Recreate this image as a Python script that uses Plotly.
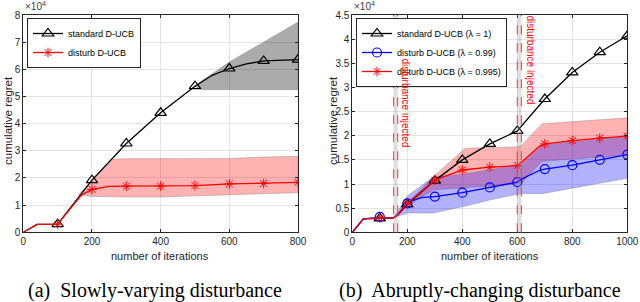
import plotly.graph_objects as go

# ---------------- data: (a) slowly-varying disturbance ----------------
iters_a = [100, 200, 300, 400, 500, 600, 700, 800]
std_a = [0.30, 1.92, 3.27, 4.40, 5.38, 6.03, 6.31, 6.36]
dist_a = [0.30, 1.58, 1.70, 1.70, 1.72, 1.78, 1.80, 1.84]

std_a_path_x = [0, 40, 100, 200, 300, 400, 500, 550, 600, 650, 700, 800]
std_a_path_y = [0, 0.29, 0.30, 1.92, 3.27, 4.40, 5.38, 5.78, 6.03, 6.20, 6.31, 6.36]
dist_a_path_x = [0, 40, 100, 170, 200, 250, 300, 400, 500, 600, 700, 800]
dist_a_path_y = [0, 0.29, 0.30, 1.38, 1.58, 1.69, 1.70, 1.70, 1.72, 1.78, 1.80, 1.84]

std_a_band_x = [500, 520, 600, 700, 800]
std_a_band_hi = [5.38, 5.58, 6.27, 7.00, 7.74]
std_a_band_lo = [5.38, 5.25, 5.25, 5.25, 5.25]
dist_a_band_x = [160, 200, 262, 300, 400, 500, 600, 700, 800]
dist_a_band_hi = [1.37, 1.90, 2.70, 2.71, 2.71, 2.71, 2.72, 2.77, 2.80]
dist_a_band_lo = [1.37, 1.32, 1.31, 1.30, 1.30, 1.32, 1.37, 1.42, 1.46]

# ---------------- data: (b) abruptly-changing disturbance ----------------
iters_b = [100, 200, 300, 400, 500, 600, 700, 800, 900, 1000]
std_b = [0.29, 0.58, 1.07, 1.50, 1.83, 2.10, 2.76, 3.31, 3.73, 4.07]
d099_b = [0.32, 0.60, 0.74, 0.82, 0.93, 1.04, 1.31, 1.39, 1.50, 1.61]
d0995_b = [0.30, 0.60, 1.08, 1.29, 1.35, 1.38, 1.83, 1.90, 1.95, 1.99]

std_b_path_x = [0, 40, 100, 150, 165, 200, 300, 400, 500, 600, 700, 800, 900, 1000]
std_b_path_y = [0, 0.28, 0.29, 0.30, 0.36, 0.58, 1.07, 1.50, 1.83, 2.10, 2.76, 3.31, 3.73, 4.07]
d0995_b_path_x = [0, 40, 100, 150, 165, 200, 300, 400, 500, 600, 615, 680, 700, 800, 900, 1000]
d0995_b_path_y = [0, 0.28, 0.30, 0.30, 0.36, 0.60, 1.08, 1.29, 1.35, 1.38, 1.45, 1.78, 1.83, 1.90, 1.95, 1.99]
d099_b_path_x = [0, 40, 100, 150, 165, 200, 250, 300, 400, 500, 600, 615, 680, 700, 800, 900, 1000]
d099_b_path_y = [0, 0.28, 0.31, 0.30, 0.36, 0.62, 0.72, 0.74, 0.82, 0.93, 1.04, 1.10, 1.28, 1.31, 1.39, 1.50, 1.61]

d0995_band_x = [150, 200, 295, 410, 600, 615, 690, 1000]
d0995_band_hi = [0.30, 0.60, 1.15, 1.74, 1.77, 1.80, 2.25, 2.37]
d0995_band_lo = [0.30, 0.55, 0.88, 0.93, 1.00, 1.02, 1.47, 1.60]
d099_band_x = [150, 200, 295, 400, 500, 600, 615, 690, 800, 1000]
d099_band_hi = [0.30, 0.75, 1.15, 1.20, 1.30, 1.40, 1.42, 1.82, 1.88, 1.99]
d099_band_lo = [0.30, 0.40, 0.40, 0.53, 0.67, 0.79, 0.80, 0.80, 0.92, 1.12]

disturb_times = [150, 600]
disturb_width = 15

xticks_a = [0, 200, 400, 600, 800]
yticks_a = [0, 1, 2, 3, 4, 5, 6, 7, 8]
xticks_b = [0, 200, 400, 600, 800, 1000]
yticks_b = [0, 0.5, 1, 1.5, 2, 2.5, 3, 3.5, 4, 4.5]
ytick_text_b = ["0", "0.5", "1", "1.5", "2", "2.5", "3", "3.5", "4", "4.5"]

FONT = "Liberation Sans, Arial, sans-serif"
SERIF = "Liberation Serif, Times New Roman, serif"
fig = go.Figure()


def band(x, hi, lo, fill, xa, ya):
    fig.add_trace(go.Scatter(
        x=list(x) + list(x)[::-1], y=list(hi) + list(lo)[::-1],
        fill="toself", fillcolor=fill, mode="lines",
        line=dict(color="rgba(120,120,120,0.6)", width=0.6),
        hoverinfo="skip", showlegend=False, xaxis=xa, yaxis=ya))


def series(px, py, mx, my, color, symbol, name, xa, ya, legend, msize=9, mlw=1.2):
    fig.add_trace(go.Scatter(x=px, y=py, mode="lines", line=dict(color=color, width=1.3),
                             showlegend=False, xaxis=xa, yaxis=ya))
    mk = dict(symbol=symbol, size=msize, color=color, line=dict(color=color, width=mlw))
    fig.add_trace(go.Scatter(x=mx, y=my, mode="markers", marker=mk,
                             showlegend=False, xaxis=xa, yaxis=ya))
    fig.add_trace(go.Scatter(x=[None], y=[None], mode="lines+markers", name=name,
                             line=dict(color=color, width=1.3), marker=mk,
                             xaxis=xa, yaxis=ya, legend=legend))


# ----- panel (a)
band(std_a_band_x, std_a_band_hi, std_a_band_lo, "rgba(0,0,0,0.33)", "x", "y")
band(dist_a_band_x, dist_a_band_hi, dist_a_band_lo, "rgba(255,0,0,0.3)", "x", "y")
series(std_a_path_x, std_a_path_y, iters_a, std_a, "black", "triangle-up-open",
       "standard D-UCB", "x", "y", "legend", 10)
series(dist_a_path_x, dist_a_path_y, iters_a, dist_a, "red", "asterisk-open",
       "disturb D-UCB", "x", "y", "legend", 8, 1.0)

# ----- panel (b)
band(d0995_band_x, d0995_band_hi, d0995_band_lo, "rgba(255,0,0,0.3)", "x2", "y2")
band(d099_band_x, d099_band_hi, d099_band_lo, "rgba(0,0,255,0.3)", "x2", "y2")
series(std_b_path_x, std_b_path_y, iters_b, std_b, "black", "triangle-up-open",
       "standard D-UCB (λ = 1)", "x2", "y2", "legend2", 10)
series(d099_b_path_x, d099_b_path_y, iters_b, d099_b, "blue", "circle-open",
       "disturb D-UCB (λ = 0.99)", "x2", "y2", "legend2", 9)
series(d0995_b_path_x, d0995_b_path_y, iters_b, d0995_b, "red", "asterisk-open",
       "disturb D-UCB (λ = 0.995)", "x2", "y2", "legend2", 8, 1.0)

shapes = []
for t in disturb_times:
    shapes.append(dict(type="rect", xref="x2", yref="y2 domain", x0=t, x1=t + disturb_width,
                       y0=0, y1=1, fillcolor="rgba(150,150,150,0.3)", line=dict(width=0),
                       layer="above"))
    for xx in (t, t + disturb_width):
        shapes.append(dict(type="line", xref="x2", yref="y2 domain", x0=xx, x1=xx, y0=0, y1=1,
                           line=dict(color="rgba(255,60,60,0.9)", width=1.2, dash="dash"),
                           layer="above"))


def ann(text, x, y, size, color="#262626", family=FONT, angle=0, xref="paper", yref="paper",
        xanchor="center", yanchor="middle"):
    return dict(text=text, x=x, y=y, xref=xref, yref=yref, textangle=angle, showarrow=False,
                xanchor=xanchor, yanchor=yanchor,
                font=dict(family=family, size=size, color=color))


annotations = [
    ann("disturbance injected", disturb_times[0] + 45, 2.67, 10, "red", angle=90,
        xref="x2", yref="y2"),
    ann("disturbance injected", disturb_times[1] + 48, 3.57, 10, "red", angle=90,
        xref="x2", yref="y2"),
    ann("×10<sup>4</sup>", 23 / 640, 1 - 14 / 302, 10, "#404040", xanchor="left",
        yanchor="bottom"),
    ann("×10<sup>4</sup>", 352 / 640, 1 - 14 / 302, 10, "#404040", xanchor="left",
        yanchor="bottom"),
    ann("cumulative regret", 8 / 640, 1 - 121 / 302, 11.5, angle=-90),
    ann("cumulative regret", 333 / 640, 1 - 121 / 302, 11.5, angle=-90),
    ann("number of iterations", 160 / 640, 1 - 256 / 302, 11),
    ann("number of iterations", 490 / 640, 1 - 256 / 302, 11),
    ann("(a)  Slowly-varying disturbance", 155 / 640, 1 - 290 / 302, 20, "black", SERIF),
    ann("(b)  Abruptly-changing disturbance", 480 / 640, 1 - 290 / 302, 20, "black", SERIF),
]

axis_common = dict(showline=True, linecolor="#262626", linewidth=1, mirror="ticks",
                   ticks="inside", ticklen=3, tickcolor="#262626", showgrid=True,
                   gridcolor="#E3E3E3", gridwidth=1, zeroline=False, automargin=False,
                   tickfont=dict(family=FONT, size=10, color="#262626"))

fig.update_layout(
    width=640, height=302, margin=dict(l=0, r=0, t=0, b=0, autoexpand=False),
    plot_bgcolor="white", paper_bgcolor="white",
    xaxis=dict(domain=[23.3 / 640, 298 / 640], range=[0, 800], tickvals=xticks_a, anchor="y",
               **axis_common),
    yaxis=dict(domain=[1 - 232.3 / 302, 1 - 15 / 302], range=[0, 8], tickvals=yticks_a,
               anchor="x", **axis_common),
    xaxis2=dict(domain=[352.3 / 640, 627.3 / 640], range=[0, 1000], tickvals=xticks_b,
                anchor="y2", **axis_common),
    yaxis2=dict(domain=[1 - 232.3 / 302, 1 - 15 / 302], range=[0, 4.5], tickvals=yticks_b,
                ticktext=ytick_text_b, anchor="x2", **axis_common),
    legend=dict(x=27 / 640, y=1 - 18 / 302, xanchor="left", yanchor="top",
                bgcolor="white", bordercolor="#262626", borderwidth=1,
                font=dict(family=FONT, size=9, color="black"), tracegroupgap=0,
                itemwidth=30),
    legend2=dict(x=356 / 640, y=1 - 18 / 302, xanchor="left", yanchor="top",
                 bgcolor="white", bordercolor="#262626", borderwidth=1,
                 font=dict(family=FONT, size=9, color="black"), tracegroupgap=0,
                 itemwidth=30),
    shapes=shapes, annotations=annotations,
)

fig.write_html("out.html", config={"displayModeBar": False},
               post_script="document.body.style.margin='0';document.body.style.overflow='hidden';")
